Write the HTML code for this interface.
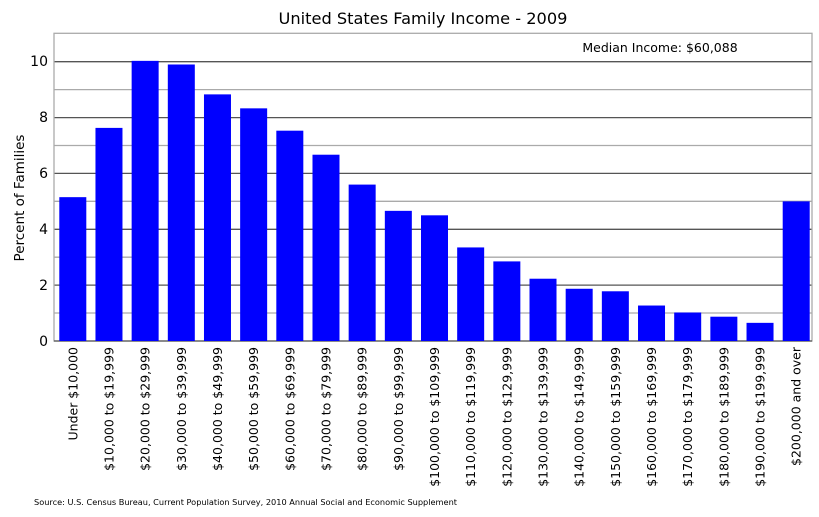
<!DOCTYPE html>
<html><head><meta charset="utf-8"><style>html,body{margin:0;padding:0;background:#fff}</style></head><body>
<svg width="819" height="512" xmlns="http://www.w3.org/2000/svg" font-family="DejaVu Sans, Liberation Sans, sans-serif">
<rect width="819" height="512" fill="#fff"/>
<text x="423" y="24" font-size="16.2" text-anchor="middle">United States Family Income - 2009</text>
<g stroke-width="1.3">
<line x1="54" x2="812" y1="313" y2="313" stroke="#aaa"/>
<line x1="54" x2="812" y1="257.2" y2="257.2" stroke="#aaa"/>
<line x1="54" x2="812" y1="201.3" y2="201.3" stroke="#aaa"/>
<line x1="54" x2="812" y1="145.5" y2="145.5" stroke="#aaa"/>
<line x1="54" x2="812" y1="89.6" y2="89.6" stroke="#aaa"/>
<line x1="54" x2="812" y1="285.1" y2="285.1" stroke="#555"/>
<line x1="54" x2="812" y1="229.3" y2="229.3" stroke="#555"/>
<line x1="54" x2="812" y1="173.4" y2="173.4" stroke="#555"/>
<line x1="54" x2="812" y1="117.6" y2="117.6" stroke="#555"/>
<line x1="54" x2="812" y1="61.7" y2="61.7" stroke="#555"/>
</g>
<rect x="54" y="33.3" width="758" height="307.7" fill="none" stroke="#aaa" stroke-width="1.3"/>
<line x1="54" x2="812" y1="341" y2="341" stroke="#555" stroke-width="1.3"/>
<text x="660" y="52" font-size="12.5" text-anchor="middle">Median Income: $60,088</text>
<g font-size="14" text-anchor="end">
<text x="48" y="346">0</text><text x="48" y="290">2</text><text x="48" y="234">4</text>
<text x="48" y="178">6</text><text x="48" y="122">8</text><text x="48" y="66">10</text>
</g>
<text transform="translate(24,198) rotate(-90)" font-size="13.5" text-anchor="middle">Percent of Families</text>
<g id="bars" fill="#0000ff"></g>
<g id="labels" font-size="12.5"></g>
<text x="34" y="505" font-size="8.2">Source: U.S. Census Bureau, Current Population Survey, 2010 Annual Social and Economic Supplement</text>
<script>
var v=[5.15,7.63,10.03,9.9,8.83,8.33,7.53,6.67,5.6,4.66,4.5,3.35,2.85,2.23,1.87,1.78,1.27,1.02,0.87,0.65,5.0];
var l=["Under $10,000","$10,000 to $19,999","$20,000 to $29,999","$30,000 to $39,999","$40,000 to $49,999","$50,000 to $59,999","$60,000 to $69,999","$70,000 to $79,999","$80,000 to $89,999","$90,000 to $99,999","$100,000 to $109,999","$110,000 to $119,999","$120,000 to $129,999","$130,000 to $139,999","$140,000 to $149,999","$150,000 to $159,999","$160,000 to $169,999","$170,000 to $179,999","$180,000 to $189,999","$190,000 to $199,999","$200,000 and over"];
var ns="http://www.w3.org/2000/svg",b=document.getElementById("bars"),g=document.getElementById("labels");
for(var i=0;i<21;i++){var x=59.3+i*36.17,h=v[i]*27.93;
var r=document.createElementNS(ns,"rect");r.setAttribute("x",x);r.setAttribute("y",341-h);r.setAttribute("width",27);r.setAttribute("height",h);b.appendChild(r);
var t=document.createElementNS(ns,"text");var cx=x+13.5+4.5;t.setAttribute("transform","translate("+cx+",347) rotate(-90)");t.setAttribute("text-anchor","end");t.textContent=l[i];g.appendChild(t);}
</script>
</svg>
</body></html>
